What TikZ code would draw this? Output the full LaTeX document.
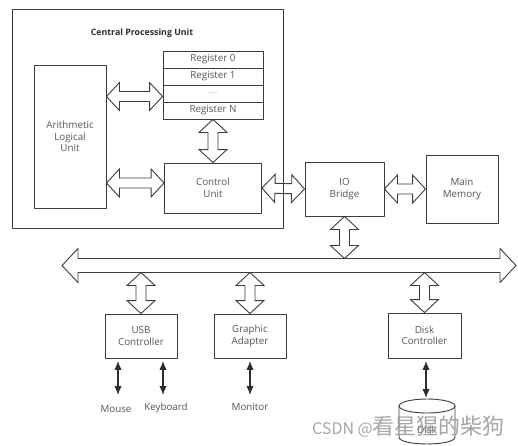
\documentclass[tikz,border=0pt]{standalone}
\usepackage{fontspec}
\setmainfont{Open Sans}
\newfontfamily\cjkfont{Noto Sans CJK SC}
\usetikzlibrary{arrows.meta,calc}

% hollow double arrow: [style]{head length}{head half width}{shaft half width}{from}{to}
\newcommand{\hollowarrow}[6][]{%
  \draw[#1] let \p1=(#5), \p2=(#6),
    \n1={veclen(\x2-\x1,\y2-\y1)}, \n2={atan2(\y2-\y1,\x2-\x1)} in
    [shift={(\p1)}, rotate=\n2]
    (0pt,0pt) -- (#2pt,#3pt) -- (#2pt,#4pt) -- ({\n1-#2pt},#4pt)
    -- ({\n1-#2pt},#3pt) -- ({\n1+0pt},0pt) -- ({\n1-#2pt},-#3pt)
    -- ({\n1-#2pt},-#4pt) -- (#2pt,-#4pt) -- (#2pt,-#3pt) -- cycle;}
\newcommand{\fatarrow}[2]{\hollowarrow[fatline]{13}{14}{5}{#1}{#2}}

\begin{document}
\begin{tikzpicture}[
    x=1pt, y=-1pt,
    line cap=round,
    line join=round,
    every node/.style={font=\fontsize{9.8}{11.6}\selectfont, text=txtgray},
    box/.style={draw=boxgray, line width=0.9pt, inner sep=0pt, align=center},
    fatline/.style={draw=boxgray, line width=0.9pt, line join=miter},
    iolink/.style={draw=linegray, line width=1.4pt, shorten <=2.5pt,
        {Latex[length=9pt,width=7.5pt]}-{Latex[length=9pt,width=7.5pt]}}
]

\definecolor{boxgray}{RGB}{60,60,60}
\definecolor{linegray}{RGB}{45,45,45}
\definecolor{txtgray}{RGB}{85,85,85}
\definecolor{titlegray}{RGB}{45,45,45}
\definecolor{wmgray}{RGB}{150,150,150}

\useasboundingbox (0,0) rectangle (518,445);

% -----------------------------
% CPU
% -----------------------------
\node[box, minimum width=271, minimum height=219] (cpu) at (147.5,118.5) {};
\node[font=\bfseries\fontsize{8.8}{10}\selectfont, text=titlegray] (cputitle)
    at (142,33) {Central Processing Unit};

\foreach \i/\txt in {0/Register 0,1/Register 1,2/{\fontsize{5}{6}\selectfont ......},3/Register N}
    \node[box, minimum width=100, minimum height=17] (r\i) at (213,{59.5+17*\i}) {\txt};

\node[box, minimum width=72, minimum height=143] (alu) at (70,136.5)
    {Arithmetic\\Logical\\Unit};
\node[box, minimum width=97, minimum height=50] (cu) at (213,188) {Control\\Unit};

\fatarrow{$(alu.east |- r2)+(0,3)$}{$(r2.west)+(0,3)$}
\fatarrow{$(alu.east |- cu)+(0,-5)$}{$(cu.west)+(0,-5)$}
\fatarrow{r3.south}{cu.north}

% -----------------------------
% Bridge and memory
% -----------------------------
\node[box, minimum width=79, minimum height=54] (io) at (344.5,189) {IO\\Bridge};
\node[box, minimum width=72, minimum height=68] (mem) at (462,189) {Main\\Memory};

\fatarrow{cu.east}{io.west}
\fatarrow{io.east}{mem.west}

% -----------------------------
% System bus
% -----------------------------
\coordinate (busl) at (62,265.5);
\coordinate (busr) at (516,265.5);
\coordinate (bustop) at (0,258.5);
\coordinate (busbot) at (0,272.5);

\hollowarrow[fatline]{16}{17}{7}{busl}{busr}
\fatarrow{io.south}{io.south |- bustop}

% -----------------------------
% Controllers
% -----------------------------
\node[box, minimum width=72, minimum height=44] (usb) at (141,336) {USB\\Controller};
\node[box, minimum width=72, minimum height=44] (gfx) at (250,336) {Graphic\\Adapter};
\node[box, minimum width=73, minimum height=45] (dc) at (424.5,335.5) {Disk\\Controller};

\fatarrow{usb.north |- busbot}{usb.north}
\fatarrow{gfx.north |- busbot}{gfx.north}
\fatarrow{dc.north |- busbot}{dc.north}

% -----------------------------
% Devices
% -----------------------------
\coordinate (mousein) at (118,395);
\coordinate (kbdin) at (163,395);
\coordinate (monin) at (250,395);
\coordinate (disktop) at (426,398);

\draw[iolink] (usb.south -| mousein) -- (mousein);
\draw[iolink] (usb.south -| kbdin) -- (kbdin);
\draw[iolink] (gfx.south -| monin) -- (monin);
\draw[iolink] (dc.south -| disktop) -- (disktop);

\node (mouse) at (116,409) {Mouse};
\node (kbd) at (166,408) {Keyboard};
\node (mon) at (250,407) {Monitor};

\draw[boxgray, line width=0.9pt] (427,406) ellipse [x radius=28, y radius=7];
\draw[boxgray, line width=0.9pt] (399,406) -- (399,437)
    .. controls (399,446.3) and (455,446.3) .. (455,437) -- (455,406);
\node (disk) at (427,430) {Disk};

% watermark
\node[anchor=west, inner sep=0pt, text=wmgray, opacity=0.85] (wm) at (312,427)
    {\cjkfont\fontsize{16}{18}\selectfont CSDN @\fontsize{22}{24}\selectfont 看星猩的柴狗};

\end{tikzpicture}
\end{document}
